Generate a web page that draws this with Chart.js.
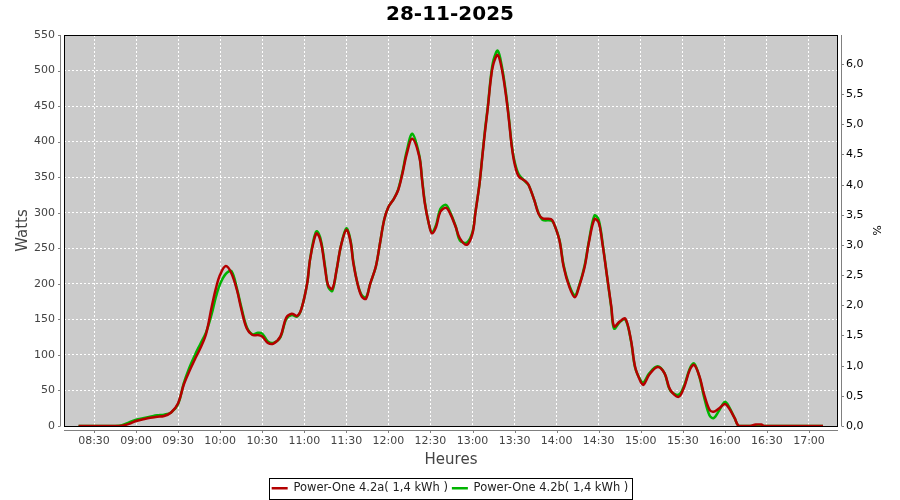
<!DOCTYPE html>
<html>
<head>
<meta charset="utf-8">
<title>28-11-2025</title>
<script src="https://cdn.jsdelivr.net/npm/chart.js@4"></script>
<style>
  html, body { margin: 0; padding: 0; background: #fff; }
  #wrap { width: 900px; height: 500px; }
</style>
</head>
<body>
<div id="wrap"><canvas id="power_chart" width="900" height="500"></canvas></div>
<script>
// readings (time of day, watts) for both inverters
const times = [
  "08:19", "08:30", "08:45", "08:50", "08:55", "09:00", "09:05", "09:10", "09:15", "09:20",
  "09:25", "09:30", "09:34", "09:38", "09:42", "09:46", "09:50", "09:54", "09:57", "10:00",
  "10:04", "10:08", "10:12", "10:15", "10:19", "10:23", "10:27", "10:30", "10:34", "10:38",
  "10:43", "10:47", "10:51", "10:55", "10:58", "11:02", "11:04", "11:07", "11:09", "11:12",
  "11:15", "11:17", "11:20", "11:23", "11:26", "11:30", "11:33", "11:35", "11:38", "11:41",
  "11:44", "11:47", "11:51", "11:54", "11:57", "12:00", "12:04", "12:07", "12:10", "12:13",
  "12:17", "12:22", "12:24", "12:26", "12:29", "12:31", "12:34", "12:37", "12:41", "12:44",
  "12:48", "12:51", "12:56", "13:00", "13:02", "13:05", "13:07", "13:09", "13:11", "13:13",
  "13:15", "13:18", "13:21", "13:24", "13:26", "13:28", "13:30", "13:33", "13:38", "13:40",
  "13:44", "13:47", "13:50", "13:56", "13:58", "14:02", "14:05", "14:09", "14:13", "14:16",
  "14:20", "14:23", "14:27", "14:30", "14:33", "14:36", "14:39", "14:41", "14:45", "14:49",
  "14:53", "14:56", "15:00", "15:02", "15:06", "15:12", "15:17", "15:21", "15:27", "15:31",
  "15:35", "15:38", "15:42", "15:45", "15:49", "15:52", "15:56", "16:00", "16:03", "16:07",
  "16:10", "16:18", "16:22", "16:26", "16:28", "17:10"
];
const powerA = [
  0, 0, 0, 0.5, 3, 7, 9.5, 11.7, 13, 14,
  19, 32, 58, 77, 94, 110, 130, 168, 194, 213,
  225, 215, 191, 165, 137, 128, 128, 126, 117, 116,
  126, 152, 158, 155, 165, 200, 233, 262, 271, 257,
  219, 198, 193, 219, 252, 276, 259, 229, 200, 182,
  179, 200, 224, 257, 290, 308, 320, 332, 355, 382,
  404, 379, 346, 313, 283, 271, 280, 301, 307, 299,
  280, 264, 255, 271, 299, 341, 379, 416, 449, 487,
  510, 522, 501, 463, 430, 393, 369, 351, 344, 339,
  318, 299, 292, 291, 285, 261, 224, 196, 181, 196,
  224, 258, 291, 286, 252, 210, 168, 140, 147, 151,
  121, 83, 62, 58, 72, 83, 74, 51, 41, 55,
  79, 86, 69, 46, 23, 20, 25, 31, 25, 11,
  0, 0, 2, 2, 0, 0
];
const powerB = [
  0, 0, 0, 1, 5, 9, 11, 13, 15, 16,
  19, 31, 60, 82, 100, 116, 132, 158, 182, 200,
  214, 218, 193, 168, 139, 129, 131, 130, 119, 117,
  125, 150, 156, 154, 165, 200, 233, 265, 274, 260,
  222, 196, 190, 219, 252, 278, 261, 231, 200, 184,
  181, 200, 224, 257, 290, 308, 320, 333, 357, 386,
  411, 381, 348, 315, 283, 273, 283, 305, 311, 301,
  281, 261, 258, 273, 300, 341, 380, 418, 451, 490,
  515, 528, 505, 466, 432, 395, 372, 354, 343, 339,
  318, 300, 290, 289, 285, 262, 226, 198, 184, 197,
  226, 260, 296, 290, 254, 210, 166, 137, 146, 150,
  120, 82, 64, 61, 74, 84, 74, 50, 44, 57,
  81, 88, 68, 42, 15, 11, 22, 34, 27, 11,
  0, 0, 0, 0, 0, 0
];
const seriesNames = ["Power-One 4.2a( 1,4 kWh )", "Power-One 4.2b( 1,4 kWh )"];
const hourTicks = [
  "08:30", "09:00", "09:30", "10:00", "10:30", "11:00", "11:30", "12:00", "12:30",
  "13:00", "13:30", "14:00", "14:30", "15:00", "15:30", "16:00", "16:30", "17:00"
];
const wattTicks = [0, 50, 100, 150, 200, 250, 300, 350, 400, 450, 500, 550];
const percentTicks = [0, 0.5, 1, 1.5, 2, 2.5, 3, 3.5, 4, 4.5, 5, 5.5, 6];

function toMinutes(s) {
  const [h, m] = s.split(":");
  return parseInt(h, 10) * 60 + parseInt(m, 10);
}

function toClock(v) {
  const h = Math.floor(v / 60);
  const m = Math.round(v - h * 60);
  return String(h).padStart(2, "0") + ":" + String(m).padStart(2, "0");
}

const AXIS_GREY = "#808080";
const TEXT_GREY = "#444444";

// grey plot background, black frame and the offset axis lines
const plotFrame = {
  id: "plotFrame",
  beforeDraw(chart) {
    const { ctx, chartArea: a } = chart;
    ctx.save();
    ctx.fillStyle = "#ffffff";
    ctx.fillRect(0, 0, chart.width, chart.height);
    ctx.fillStyle = "#cbcbcb";
    ctx.fillRect(a.left, a.top, a.right - a.left, a.bottom - a.top);
    ctx.restore();
  },
  afterDraw(chart) {
    const { ctx, chartArea: a, scales } = chart;
    ctx.save();
    ctx.strokeStyle = "#000000";
    ctx.lineWidth = 1;
    ctx.strokeRect(a.left + 0.5, a.top + 0.5, a.right - a.left - 1, a.bottom - a.top);

    ctx.strokeStyle = AXIS_GREY;
    ctx.beginPath();
    // left axis
    ctx.moveTo(a.left - 3.5, a.top);
    ctx.lineTo(a.left - 3.5, a.bottom);
    scales.y.ticks.forEach((t) => {
      const py = Math.round(scales.y.getPixelForValue(t.value)) + 0.5;
      ctx.moveTo(a.left - 6, py);
      ctx.lineTo(a.left - 3.5, py);
    });
    // right axis
    ctx.moveTo(a.right + 3.5, a.top);
    ctx.lineTo(a.right + 3.5, a.bottom);
    scales.pct.ticks.forEach((t) => {
      const py = Math.round(scales.pct.getPixelForValue(t.value)) + 0.5;
      ctx.moveTo(a.right + 3.5, py);
      ctx.lineTo(a.right + 6, py);
    });
    // bottom axis
    ctx.moveTo(a.left, a.bottom + 4.5);
    ctx.lineTo(a.right, a.bottom + 4.5);
    scales.x.ticks.forEach((t) => {
      const px = Math.round(scales.x.getPixelForValue(t.value)) + 0.5;
      ctx.moveTo(px, a.bottom + 4.5);
      ctx.lineTo(px, a.bottom + 7);
    });
    ctx.stroke();

    // box around the legend
    const lg = chart.legend;
    if (lg && lg.legendHitBoxes && lg.legendHitBoxes.length) {
      const boxes = lg.legendHitBoxes;
      const x0 = Math.min(...boxes.map((b) => b.left)) - 3;
      const x1 = Math.max(...boxes.map((b) => b.left + b.width)) + 3;
      const y0 = Math.min(...boxes.map((b) => b.top)) - 5;
      const y1 = Math.max(...boxes.map((b) => b.top + b.height)) + 4;
      ctx.strokeStyle = "#000000";
      ctx.strokeRect(Math.round(x0) + 0.5, Math.round(y0) + 0.5, Math.round(x1 - x0), Math.round(y1 - y0));
    }
    ctx.restore();
  },
};

function createPowerChart() {
  const xs = times.map(toMinutes);
  const dashedGrid = {
    color: "#ffffff",
    lineWidth: 1,
    drawTicks: false,
  };

  const data = {
    datasets: [
      {
        label: seriesNames[0],
        data: xs.map((x, i) => ({ x: x, y: powerA[i] })),
        borderColor: "#b40000",
        backgroundColor: "#b40000",
        borderWidth: 2.5,
      },
      {
        label: seriesNames[1],
        data: xs.map((x, i) => ({ x: x, y: powerB[i] })),
        borderColor: "#00b400",
        backgroundColor: "#00b400",
        borderWidth: 2.5,
      },
    ],
  };

  const config = {
    type: "line",
    data,
    options: {
      responsive: false,
      animation: false,
      // legend sits a few pixels lower than chart.js would put it
      layout: { padding: { top: 0, left: 0, right: 0, bottom: -4 } },
      elements: {
        point: { radius: 0 },
        line: { tension: 0.35, fill: false },
      },
      scales: {
        x: {
          type: "linear",
          min: 488.6,
          max: 1040.7,
          afterBuildTicks(scale) {
            scale.ticks = hourTicks.map((s) => ({ value: toMinutes(s) }));
          },
          afterFit(scale) {
            scale.height = 52.5;
          },
          grid: dashedGrid,
          border: { display: false, dash: [2, 2] },
          ticks: {
            color: TEXT_GREY,
            font: { size: 11 },
            padding: 9,
            maxRotation: 0,
            autoSkip: false,
            callback: (v) => toClock(v),
          },
          title: {
            display: true,
            text: "Heures",
            color: TEXT_GREY,
            font: { size: 15 },
            padding: { top: 0, bottom: 9.5 },
          },
        },
        y: {
          position: "left",
          min: 0,
          max: 550,
          afterBuildTicks(scale) {
            scale.ticks = wattTicks.map((v) => ({ value: v }));
          },
          afterFit(scale) {
            scale.width = 64;
          },
          grid: dashedGrid,
          border: { display: false, dash: [2, 2] },
          ticks: { color: TEXT_GREY, font: { size: 11 }, padding: 9 },
          title: {
            display: true,
            text: "Watts",
            color: TEXT_GREY,
            font: { size: 15 },
            padding: { top: 14, bottom: 0 },
          },
        },
        pct: {
          position: "right",
          type: "linear",
          min: 0,
          max: 6.48,
          afterBuildTicks(scale) {
            scale.ticks = percentTicks.map((v) => ({ value: v }));
          },
          afterFit(scale) {
            scale.width = 62;
          },
          grid: { display: false, drawTicks: false },
          border: { display: false },
          ticks: {
            color: "#000000",
            font: { size: 11 },
            padding: 8,
            callback: (v) => v.toFixed(1).replace(".", ","),
          },
          title: {
            display: true,
            text: "%",
            color: "#000000",
            font: { size: 11 },
            padding: { top: 18, bottom: 0 },
          },
        },
      },
      plugins: {
        title: {
          display: true,
          text: "28-11-2025",
          color: "#000000",
          font: { size: 20, weight: "bold" },
          padding: { top: 3, bottom: 8 },
        },
        legend: {
          position: "bottom",
          labels: {
            color: "#222222",
            font: { size: 11.5 },
            usePointStyle: true,
            pointStyle: "line",
            pointStyleWidth: 16,
            boxHeight: 11,
            padding: 4,
          },
        },
        tooltip: { enabled: false },
      },
    },
    plugins: [plotFrame],
  };

  Chart.defaults.font.family = "'DejaVu Sans', sans-serif";
  return new Chart(document.getElementById("power_chart"), config);
}

window.addEventListener("DOMContentLoaded", function () {
  createPowerChart();
});
</script>
</body>
</html>
